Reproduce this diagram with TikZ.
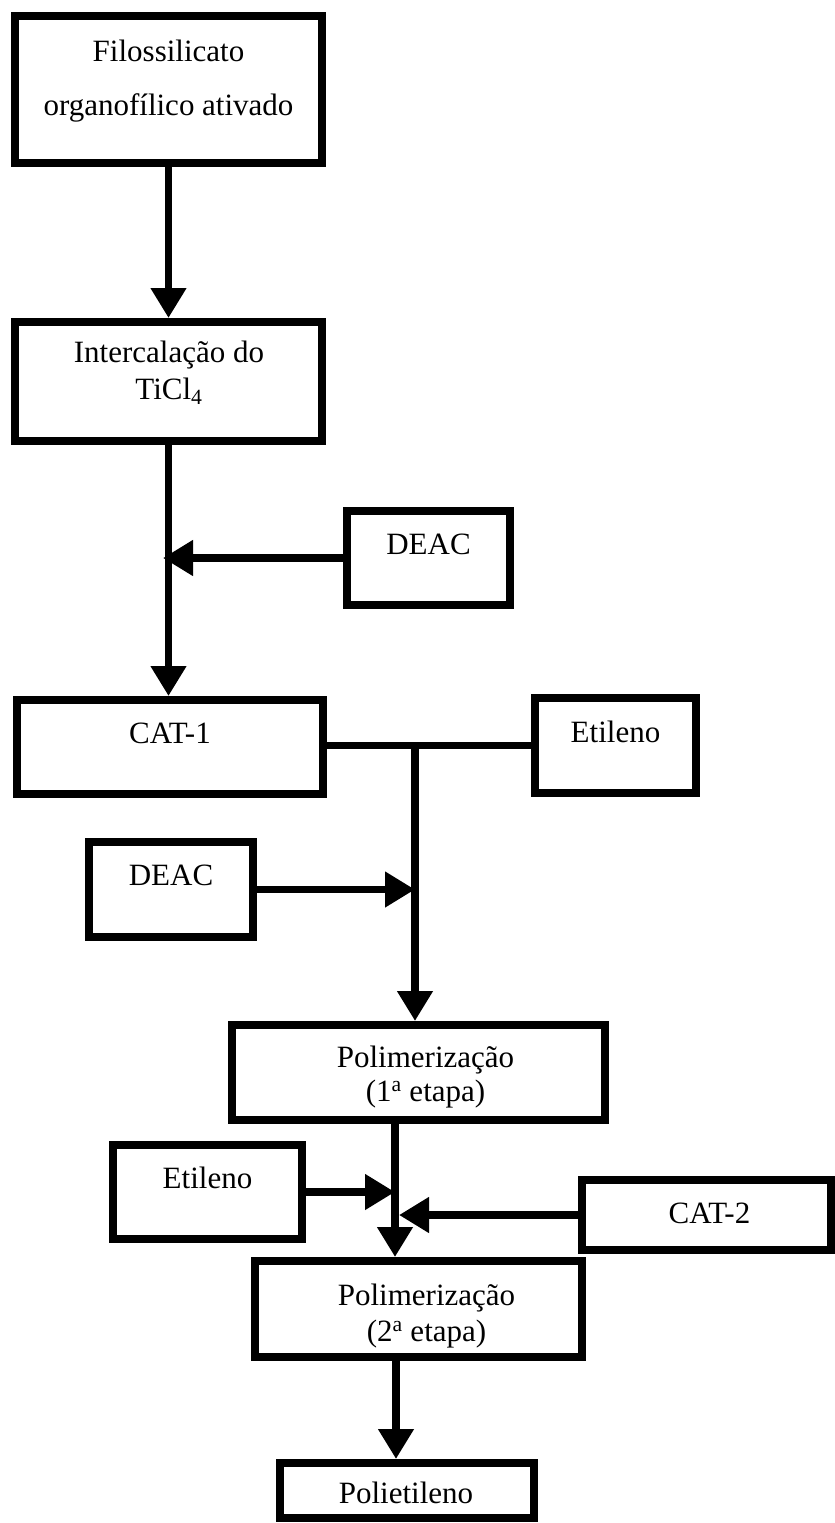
\documentclass[tikz,border=0pt]{standalone}
\usepackage{fontspec}
\setmainfont{Liberation Serif}
\usetikzlibrary{arrows.meta}
\tikzset{
  boxnode/.style={draw, rectangle, line width=8pt, inner sep=0pt},
  lbl/.style={inner sep=0pt, anchor=base, font=\fontsize{31pt}{37pt}\selectfont},
  conn/.style={line width=7.5pt},
  arr/.style={conn, -{Triangle[length=30pt,width=34pt]}},
}
\begin{document}
\begin{tikzpicture}[x=1pt,y=-1pt]
\useasboundingbox (0,0) rectangle (835,1523);
\fill[white] (0,0) rectangle (835,1523);

% helper x positions
\coordinate (x163) at (163,0);
\coordinate (x415) at (415,0);
\coordinate (x395) at (395,0);
\coordinate (x399) at (399,0);
\coordinate (x396) at (396,0);

% boxes
\node[boxnode, minimum width=307pt, minimum height=147pt] (b1) at (168.5,89.5) {};
\node[boxnode, minimum width=307pt, minimum height=119pt] (b2) at (168.5,381.5) {};
\node[boxnode, minimum width=163pt, minimum height=94pt] (deac1) at (428.5,558) {};
\node[boxnode, minimum width=306pt, minimum height=94pt] (cat1) at (170,747) {};
\node[boxnode, minimum width=161pt, minimum height=95pt] (ete1) at (615.5,745.5) {};
\node[boxnode, minimum width=164pt, minimum height=95pt] (deac2) at (171,889.5) {};
\node[boxnode, minimum width=373pt, minimum height=95pt] (poli1) at (418.5,1072.5) {};
\node[boxnode, minimum width=189pt, minimum height=94pt] (ete2) at (207.5,1192) {};
\node[boxnode, minimum width=249pt, minimum height=70pt] (cat2) at (706.5,1215) {};
\node[boxnode, minimum width=327pt, minimum height=96pt] (poli2) at (418.5,1309) {};
\node[boxnode, minimum width=254pt, minimum height=55pt] (polie) at (407,1490.5) {};

% texts
\node[lbl] (t1a) at (168.5,61) {Filossilicato};
\node[lbl] (t1b) at (168.5,115) {organofílico ativado};
\node[lbl] (t2a) at (169,362) {Intercalação do};
\node[lbl] (t2b) at (169,399) {TiCl\textsubscript{4}};
\node[lbl] (t3) at (428.5,554) {DEAC};
\node[lbl] (t4) at (170,743) {CAT-1};
\node[lbl] (t5) at (615.5,742) {Etileno};
\node[lbl] (t6) at (171,885) {DEAC};
\node[lbl] (t7a) at (425.5,1067) {Polimerização};
\node[lbl] (t7b) at (425.5,1101) {(1\textsuperscript{a} etapa)};
\node[lbl] (t8) at (207.5,1188) {Etileno};
\node[lbl] (t9) at (709.5,1223) {CAT-2};
\node[lbl] (t10a) at (426.5,1305) {Polimerização};
\node[lbl] (t10b) at (426.5,1341) {(2\textsuperscript{a} etapa)};
\node[lbl] (t11) at (406,1503) {Polietileno};

% connectors
\draw[arr] (b1.south) -- (b2.north);
\draw[arr] (b2.south) -- (b2.south |- cat1.north);
\draw[arr] (deac1.west) -- (deac1.west -| x163);
\draw[conn] (cat1.east |- ete1.west) -- (ete1.west);
\coordinate (j2) at (ete1.west -| x415);
\draw[arr] ([yshift=-3.75pt]j2) -- (j2 |- poli1.north);
\draw[arr] (deac2.east) -- (deac2.east -| x415);
\draw[arr] (poli1.south -| x395) -- (poli2.north -| x395);
\draw[arr] (ete2.east) -- (ete2.east -| x395);
\draw[arr] (cat2.west) -- (cat2.west -| x399);
\draw[arr] (poli2.south -| x396) -- (polie.north -| x396);
\end{tikzpicture}
\end{document}
